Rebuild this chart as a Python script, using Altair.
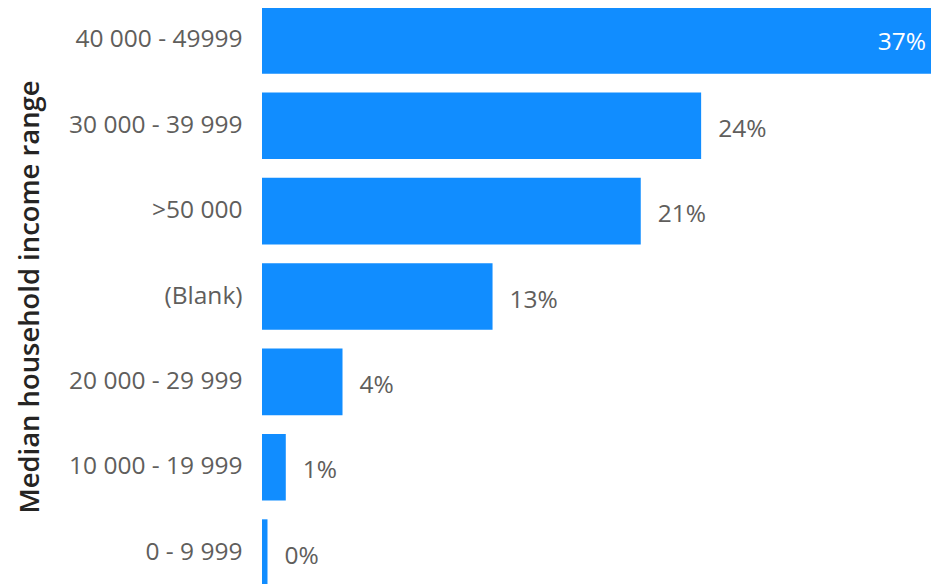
import altair as alt
import pandas as pd

categories = ["40 000 - 49999", "30 000 - 39 999", ">50 000", "(Blank)",
              "20 000 - 29 999", "10 000 - 19 999", "0 - 9 999"]
shares = [0.370, 0.240, 0.207, 0.126, 0.044, 0.013, 0.003]

df = pd.DataFrame({"cat": categories, "v": shares})

FONT = "Open Sans"
FS = 24.5
y_enc = alt.Y("cat:N", sort=categories,
              scale=alt.Scale(paddingInner=0.219, paddingOuter=0.0, range=[-1, 578]),
              axis=alt.Axis(title="Median household income range", labelFontSize=FS,
                            labelColor="#605E5C", labelFont=FONT, labelPadding=20,
                            ticks=False, domain=False, grid=False,
                            titleFont=FONT, titleFontSize=27.4, titleFontWeight=600,
                            titleColor="#252423", titleX=-232, titleY=288.5,
                            titleBaseline="middle", titleAngle=-90))
x_enc = alt.X("v:Q", scale=alt.Scale(domain=[0, 0.37], nice=False, zero=True, range=[0, 677]),
              axis=None)

base = alt.Chart(df)
bars = base.mark_bar(color="#118DFF").encode(x=x_enc, y=y_enc)
outside = base.transform_filter("datum.v < 0.3").mark_text(
    align="left", baseline="middle", dx=17, dy=4, fontSize=FS, font=FONT, color="#605E5C"
).encode(x=x_enc, y=y_enc, text=alt.Text("v:Q", format=".0%"))
inside = base.transform_filter("datum.v >= 0.3").mark_text(
    align="right", baseline="middle", dx=-13, dy=3, fontSize=FS, font=FONT, color="#FFFFFF"
).encode(x=x_enc, y=y_enc, text=alt.Text("v:Q", format=".0%"))

chart = (bars + outside + inside).properties(
    width=669, height=576,
    autosize=alt.AutoSizeParams(type="none"),
    padding={"left": 254, "top": 0, "right": 0, "bottom": 0},
).configure_view(stroke=None)

chart.save("out.html", embed_options={"renderer": "svg", "actions": False})
